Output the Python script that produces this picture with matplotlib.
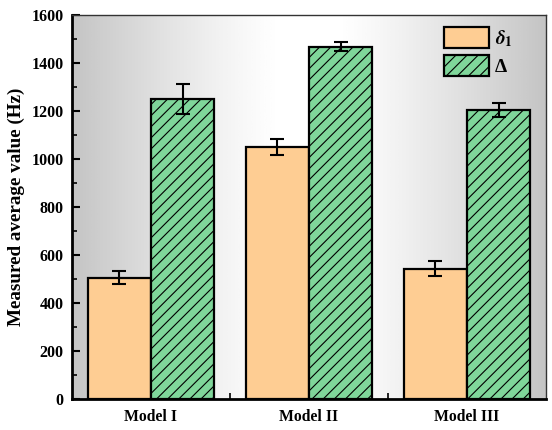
import numpy as np
import matplotlib
matplotlib.use('Agg')
import matplotlib.pyplot as plt
from matplotlib.patches import Patch

plt.rcParams['font.family'] = ['Liberation Serif', 'DejaVu Serif']
plt.rcParams['font.weight'] = 'bold'
plt.rcParams['mathtext.fontset'] = 'stix'
plt.rcParams['hatch.linewidth'] = 0.8

# Werte
models = ['Model I', 'Model II', 'Model III']
delta1 = [505, 1050, 543]
delta1_err = [27, 32, 30]
big_delta = [1250, 1468, 1205]
big_delta_err = [62, 19, 29]

orange = '#FECD93'
green = '#7FD69A'

fig = plt.figure(figsize=(5.52, 4.30), dpi=100)
ax = fig.add_axes([72 / 552, 31 / 430, 474 / 552, 384 / 430])

# Hintergrund: grau an den Rändern, weiß in der Mitte
xs = np.linspace(0, 1, 400)
dist = np.abs(xs - 0.5)
profile = np.clip((dist - 0.06) / 0.44, 0, 1) ** 1.2
shade = 1.0 - 0.23 * profile
grad = np.tile(shade, (2, 1))
ax.imshow(grad, cmap='gray', vmin=0, vmax=1, aspect='auto',
          extent=[0.5, 3.5, 0, 1600], zorder=0, interpolation='bicubic')

x = np.arange(1, len(models) + 1)
w = 0.4
ax.bar(x - w / 2, delta1, w, color=orange, edgecolor='black', linewidth=1.6, zorder=2)
ax.bar(x + w / 2, big_delta, w, color=green, edgecolor='black', linewidth=1.6,
       hatch='///', zorder=2)
ax.errorbar(x - w / 2, delta1, yerr=delta1_err, fmt='none', ecolor='black',
            elinewidth=1.5, capsize=5, capthick=1.5, zorder=3)
ax.errorbar(x + w / 2, big_delta, yerr=big_delta_err, fmt='none', ecolor='black',
            elinewidth=1.5, capsize=5, capthick=1.5, zorder=3)

ax.set_xlim(0.5, 3.5)
ax.set_ylim(0, 1600)
ax.set_yticks(np.arange(0, 1601, 200))
ax.set_yticks(np.arange(100, 1600, 200), minor=True)
ax.set_xticks(x)
ax.set_xticklabels(models, fontsize=11.3, fontweight='bold')
ax.set_xticks([1.5, 2.5], minor=True)
ax.tick_params(axis='x', which='major', length=0, pad=7)
ax.tick_params(axis='x', which='minor', direction='in', length=4, width=1.2)
ax.tick_params(axis='y', which='major', direction='in', length=6, width=1.5,
               labelsize=11.5, pad=6)
ax.tick_params(axis='y', which='minor', direction='in', length=3.5, width=1.2)
for lab in ax.get_yticklabels():
    lab.set_fontweight('bold')

ax.set_ylabel('Measured average value (Hz)', fontsize=13.8, fontweight='bold', labelpad=5)

for side in ['left', 'bottom']:
    ax.spines[side].set_linewidth(2)
for side in ['top', 'right']:
    ax.spines[side].set_linewidth(1)
    ax.spines[side].set_color('#333333')

handles = [Patch(facecolor=orange, edgecolor='black', linewidth=1.6),
           Patch(facecolor=green, edgecolor='black', linewidth=1.6, hatch='///')]
ax.legend(handles, [r'$\delta_1$', 'Δ'], loc='upper left', frameon=False,
          fontsize=14, handlelength=2.3, handleheight=1.3, labelspacing=0.3,
          handletextpad=0.3, borderpad=0, borderaxespad=0,
          bbox_to_anchor=(0.785, 0.968))

fig.savefig('out.png', dpi=100)
